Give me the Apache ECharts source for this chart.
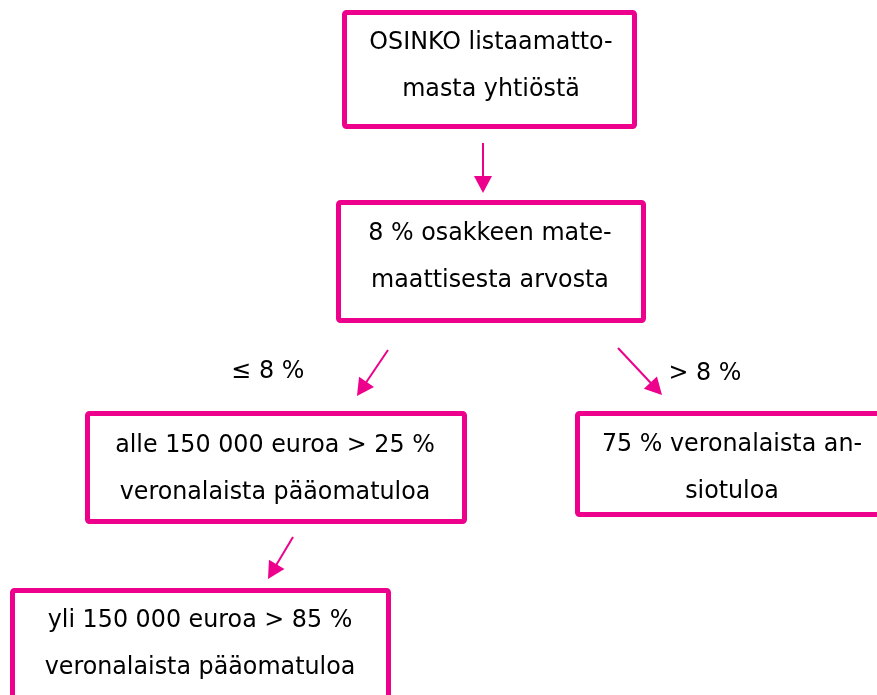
<!DOCTYPE html>
<html>
<head>
<meta charset="utf-8">
<script src="https://cdn.jsdelivr.net/npm/echarts@6/dist/echarts.min.js"></script>
<style>
  html, body { margin: 0; padding: 0; background: #ffffff; }
  #chart { width: 877px; height: 695px; }
</style>
</head>
<body>
<div id="chart"></div>
<script>
// ---- content ----
var boxTexts = [
  "OSINKO listaamatto-\nmasta yhtiöstä",
  "8 % osakkeen mate-\nmaattisesta arvosta",
  "alle 150 000 euroa > 25 %\nveronalaista pääomatuloa",
  "75 % veronalaista an-\nsiotuloa",
  "yli 150 000 euroa > 85 %\nveronalaista pääomatuloa"
];
var branchLabels = ["≤ 8 %", "> 8 %"];

// ---- layout (diagram coordinates, pixels on a 877 x 695 plane) ----
// box rectangles: [left, top, right, bottom] of the border's centre line
var boxLayout = [
  [344.5, 12.5, 634.5, 126.5],
  [338.5, 202.5, 643.5, 320.5],
  [87.5, 413.5, 464.5, 521.5],
  [577.5, 413.5, 890, 514.5],
  [12.5, 590.5, 388.5, 720]
];
// text centre for each box (x, first line y)
var boxTextPos = [
  [491, 42],
  [490, 233],
  [275, 445],
  [732, 444],
  [200, 620]
];
// arrows: [x0, y0, x1(tip), y1(tip)]
var arrowLayout = [
  [483, 143, 483, 193],
  [388, 350, 357, 396],
  [618, 348, 662, 395],
  [293, 537, 268, 579]
];
var labelPos = [
  [268, 371],
  [705, 373]
];

var PINK = '#EC008C';
var FONT = '"DejaVu Sans", Verdana, sans-serif';
var FS = 25;
var SX = 0.952;
var LH = 47;

var chart = echarts.init(document.getElementById('chart'), null, { renderer: 'canvas' });

var boxData = boxTexts.map(function (t, i) {
  return { value: boxLayout[i].concat(boxTextPos[i]), text: t };
});
var arrowData = arrowLayout.map(function (a) { return { value: a }; });
var labelData = branchLabels.map(function (t, i) {
  return { value: labelPos[i], text: t };
});

chart.setOption({
  backgroundColor: '#ffffff',
  animation: false,
  grid: { left: 0, right: 0, top: 0, bottom: 0 },
  xAxis: { type: 'value', min: 0, max: 877, show: false },
  yAxis: { type: 'value', min: 0, max: 695, inverse: true, show: false },
  series: [
    {
      type: 'custom',
      coordinateSystem: 'cartesian2d',
      clip: false,
      data: boxData,
      renderItem: function (params, api) {
        var d = boxData[params.dataIndex];
        var v = d.value;
        var p0 = api.coord([v[0], v[1]]);
        var p1 = api.coord([v[2], v[3]]);
        var tp = api.coord([v[4], v[5]]);
        return {
          type: 'group',
          children: [
            {
              type: 'rect',
              shape: { x: p0[0], y: p0[1], width: p1[0] - p0[0], height: p1[1] - p0[1], r: 2 },
              style: { fill: '#ffffff', stroke: PINK, lineWidth: 5 }
            },
            {
              type: 'text',
              x: tp[0], y: tp[1] - LH / 2,
              scaleX: SX,
              style: {
                text: d.text, fill: '#000000', font: FS + 'px ' + FONT,
                align: 'center', verticalAlign: 'top', lineHeight: LH
              }
            }
          ]
        };
      }
    },
    {
      type: 'custom',
      coordinateSystem: 'cartesian2d',
      clip: false,
      data: arrowData,
      renderItem: function (params, api) {
        var v = arrowData[params.dataIndex].value;
        var s = api.coord([v[0], v[1]]);
        var e = api.coord([v[2], v[3]]);
        var dx = e[0] - s[0], dy = e[1] - s[1];
        var len = Math.sqrt(dx * dx + dy * dy);
        var ux = dx / len, uy = dy / len;
        var hl = 17, hw = 9;
        var bx = e[0] - ux * hl, by = e[1] - uy * hl;
        return {
          type: 'group',
          children: [
            {
              type: 'line',
              shape: { x1: s[0], y1: s[1], x2: bx + ux * 2, y2: by + uy * 2 },
              style: { stroke: PINK, lineWidth: 2 }
            },
            {
              type: 'polygon',
              shape: { points: [
                [e[0], e[1]],
                [bx - uy * hw, by + ux * hw],
                [bx + uy * hw, by - ux * hw]
              ] },
              style: { fill: PINK }
            }
          ]
        };
      }
    },
    {
      type: 'custom',
      coordinateSystem: 'cartesian2d',
      clip: false,
      data: labelData,
      renderItem: function (params, api) {
        var d = labelData[params.dataIndex];
        var p = api.coord(d.value);
        return {
          type: 'text',
          x: p[0], y: p[1],
          scaleX: SX,
          style: {
            text: d.text, fill: '#000000', font: FS + 'px ' + FONT,
            align: 'center', verticalAlign: 'middle'
          }
        };
      }
    }
  ]
});
</script>
</body>
</html>
